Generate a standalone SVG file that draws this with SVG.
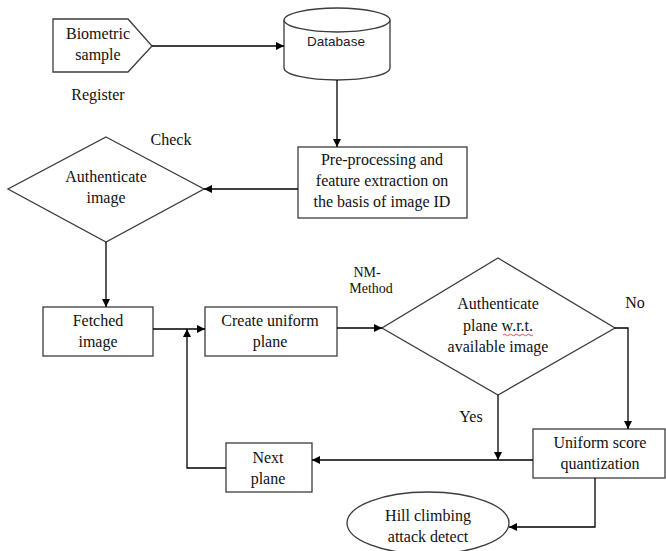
<svg xmlns="http://www.w3.org/2000/svg" width="666" height="551" viewBox="0 0 666 551">
<style>
.s{fill:#fff;stroke:#3c3c3c;stroke-width:1.3}
.t{font-family:"Liberation Serif","Times New Roman",serif;font-size:16px;fill:#111;text-anchor:middle}
.c{fill:none;stroke:#000;stroke-width:1.3}
</style>
<defs>
<marker id="a" viewBox="0 0 10 10" refX="10" refY="5" markerWidth="8" markerHeight="8" markerUnits="userSpaceOnUse" orient="auto">
<path d="M0,0 L10,5 L0,10 z" fill="#000"/>
</marker>
</defs>
<rect width="666" height="551" fill="#fff"/>
<g id="biometric">
<polygon class="s" points="53,19 128,19 152,46 128,72 53,72"/>
<text class="t" x="98" y="39">Biometric</text>
<text class="t" x="98" y="60">sample</text>
</g>
<text class="t" x="98" y="100">Register</text>
<g id="database">
<path class="s" d="M284,20 L284,68 A53,12 0 0 0 390,68 L390,20 A53,12 0 0 0 284,20 Z"/>
<path class="s" d="M284,20 A53,12 0 0 0 390,20" fill="none"/>
<text x="336" y="46" style="font-family:'Liberation Sans',Arial,sans-serif;font-size:13.5px;fill:#1a1a2e;text-anchor:middle">Database</text>
</g>
<g id="preprocessing">
<rect class="s" x="298" y="147" width="169" height="71"/>
<text class="t" x="382" y="165">Pre-processing and</text>
<text class="t" x="382" y="186">feature extraction on</text>
<text class="t" x="382" y="207">the basis of image ID</text>
</g>
<text class="t" x="171" y="145">Check</text>
<g id="auth-image">
<polygon class="s" points="106,137 204,189 106,242 8,189"/>
<text class="t" x="106" y="182">Authenticate</text>
<text class="t" x="106" y="203">image</text>
</g>
<g id="fetched">
<rect class="s" x="43" y="307" width="110" height="49"/>
<text class="t" x="98" y="326">Fetched</text>
<text class="t" x="98" y="347">image</text>
</g>
<g id="create">
<rect class="s" x="205" y="307" width="132" height="49"/>
<text class="t" x="270" y="326">Create uniform</text>
<text class="t" x="270" y="347">plane</text>
</g>
<text class="t" x="367" y="277" style="font-size:14px">NM-</text>
<text class="t" x="371" y="293" style="font-size:14px">Method</text>
<g id="auth-plane">
<polygon class="s" points="498,258 615,328 498,395 382,328"/>
<text class="t" x="498" y="309">Authenticate</text>
<text class="t" x="498" y="331">plane w.r.t.</text>
<path d="M503,335 q1.5,-1.5 3,0 t3,0 t3,0 t3,0 t3,0 t3,0 t3,0 t3,0 t3,0 t3,0" fill="none" stroke="#e02020" stroke-width="0.8"/>
<text class="t" x="498" y="352">available image</text>
</g>
<text class="t" x="635" y="308">No</text>
<text class="t" x="471" y="422">Yes</text>
<g id="uniform-score">
<rect class="s" x="533" y="429" width="132" height="49"/>
<text class="t" x="600" y="448">Uniform score</text>
<text class="t" x="600" y="469">quantization</text>
</g>
<g id="next-plane">
<rect class="s" x="226" y="443" width="86" height="49"/>
<text class="t" x="268" y="463">Next</text>
<text class="t" x="268" y="484">plane</text>
</g>
<g id="hill">
<ellipse class="s" cx="428" cy="523" rx="81" ry="31"/>
<text class="t" x="428" y="521">Hill climbing</text>
<text class="t" x="428" y="542">attack detect</text>
</g>
<g id="connectors">
<path class="c" d="M152,46 L284,46" marker-end="url(#a)"/>
<path class="c" d="M337,80 L337,147" marker-end="url(#a)"/>
<path class="c" d="M298,189 L204,189" marker-end="url(#a)"/>
<path class="c" d="M106,242 L106,307" marker-end="url(#a)"/>
<path class="c" d="M153,329 L205,329" marker-end="url(#a)"/>
<path class="c" d="M337,328 L382,328" marker-end="url(#a)"/>
<path class="c" d="M615,328 L628,328 L628,429" marker-end="url(#a)"/>
<path class="c" d="M498,395 L498,460" marker-end="url(#a)"/>
<path class="c" d="M533,460 L312,460" marker-end="url(#a)"/>
<path class="c" d="M226,468 L187,468 L187,329" marker-end="url(#a)"/>
<path class="c" d="M595,478 L595,527 L509,527" marker-end="url(#a)"/>
</g>
</svg>
